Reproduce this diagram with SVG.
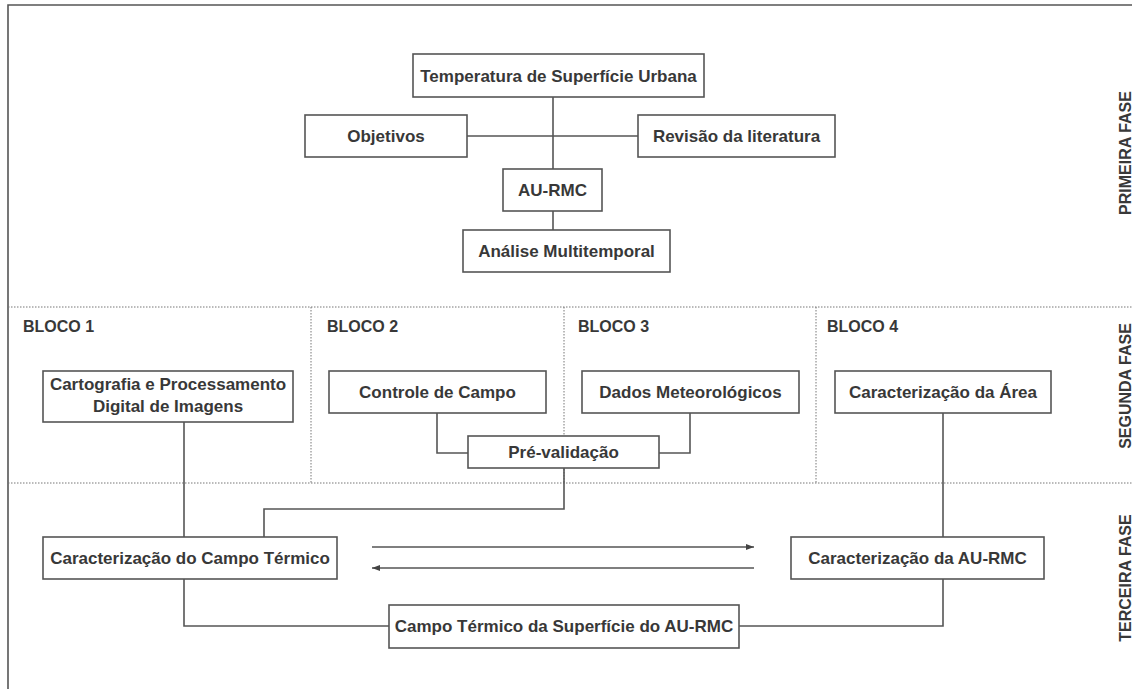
<svg xmlns="http://www.w3.org/2000/svg" width="1132" height="689" viewBox="0 0 1132 689">
  <defs>
    <style>
      .box { fill: #ffffff; stroke: #555555; stroke-width: 1.6; }
      .lbl { font-family: "Liberation Sans", Arial, sans-serif; font-weight: bold; font-size: 17px; fill: #383838; text-anchor: middle; }
      .blk { font-family: "Liberation Sans", Arial, sans-serif; font-weight: bold; font-size: 16px; fill: #383838; }
      .phase { font-family: "Liberation Sans", Arial, sans-serif; font-weight: bold; font-size: 16px; fill: #383838; text-anchor: middle; }
      .wire { fill: none; stroke: #555555; stroke-width: 1.6; }
      .dots { fill: none; stroke: #777777; stroke-width: 1; stroke-dasharray: 1.5 1.5; }
      .frame { fill: none; stroke: #555555; stroke-width: 1.6; }
    </style>
    <marker id="head" markerUnits="userSpaceOnUse" markerWidth="8" markerHeight="6" refX="8" refY="3" orient="auto">
      <path d="M0,0 L8,3 L0,6 z" fill="#444444"/>
    </marker>
  </defs>

  <rect width="1132" height="689" fill="#ffffff"/>

  <!-- frame and phase separators -->
  <g id="frame">
    <path class="frame" d="M1132,5 H8 V689"/>
    <path class="dots" d="M8,307 H1132 M8,483 H1132 M311,307 V483 M564,307 V483 M816,307 V483"/>
  </g>

  <!-- phase titles -->
  <g id="phases">
    <text class="phase" transform="translate(1131,153) rotate(-90)">PRIMEIRA FASE</text>
    <text class="phase" transform="translate(1131,386) rotate(-90)">SEGUNDA FASE</text>
    <text class="phase" transform="translate(1131,578) rotate(-90)">TERCEIRA FASE</text>
  </g>

  <!-- block headings -->
  <g id="blocks">
    <text class="blk" x="23" y="332">BLOCO 1</text>
    <text class="blk" x="327" y="332">BLOCO 2</text>
    <text class="blk" x="578" y="332">BLOCO 3</text>
    <text class="blk" x="827" y="332">BLOCO 4</text>
  </g>

  <!-- connectors -->
  <g id="connectors">
    <path class="wire" d="M553,97 V169"/>
    <path class="wire" d="M467,136 H638"/>
    <path class="wire" d="M553,211 V230"/>
    <path class="wire" d="M184,422 V537"/>
    <path class="wire" d="M437,413 V453 H468"/>
    <path class="wire" d="M690,413 V453 H659"/>
    <path class="wire" d="M564,468 V509 H264 V537"/>
    <path class="wire" d="M943,413 V537"/>
    <path class="wire" d="M184,579 V626 H389"/>
    <path class="wire" d="M943,579 V626 H739"/>
    <path class="wire" d="M372,547 H754" marker-end="url(#head)"/>
    <path class="wire" d="M754,568 H372" marker-end="url(#head)"/>
  </g>

  <!-- first phase -->
  <g id="n-temperatura">
    <rect class="box" x="413" y="54" width="291" height="43"/>
    <text class="lbl" x="558.5" y="81.5">Temperatura de Superfície Urbana</text>
  </g>
  <g id="n-objetivos">
    <rect class="box" x="305" y="115" width="162" height="42"/>
    <text class="lbl" x="386" y="142">Objetivos</text>
  </g>
  <g id="n-revisao">
    <rect class="box" x="638" y="115" width="197" height="42"/>
    <text class="lbl" x="736.5" y="142">Revisão da literatura</text>
  </g>
  <g id="n-aurmc">
    <rect class="box" x="503" y="169" width="99" height="42"/>
    <text class="lbl" x="552.5" y="196">AU-RMC</text>
  </g>
  <g id="n-analise">
    <rect class="box" x="463" y="230" width="207" height="42"/>
    <text class="lbl" x="566.5" y="257">Análise Multitemporal</text>
  </g>

  <!-- second phase -->
  <g id="n-cartografia">
    <rect class="box" x="43" y="371" width="250" height="51"/>
    <text class="lbl" x="168" y="389.5">Cartografia e Processamento</text>
    <text class="lbl" x="168" y="412">Digital de Imagens</text>
  </g>
  <g id="n-controle">
    <rect class="box" x="329" y="371" width="217" height="42"/>
    <text class="lbl" x="437.5" y="398">Controle de Campo</text>
  </g>
  <g id="n-dados">
    <rect class="box" x="582" y="371" width="217" height="42"/>
    <text class="lbl" x="690.5" y="398">Dados Meteorológicos</text>
  </g>
  <g id="n-prevalidacao">
    <rect class="box" x="468" y="436" width="191" height="32"/>
    <text class="lbl" x="563.5" y="458">Pré-validação</text>
  </g>
  <g id="n-area">
    <rect class="box" x="835" y="371" width="216" height="42"/>
    <text class="lbl" x="943" y="398">Caracterização da Área</text>
  </g>

  <!-- third phase -->
  <g id="n-campo-termico">
    <rect class="box" x="43" y="537" width="294" height="42"/>
    <text class="lbl" x="190" y="564">Caracterização do Campo Térmico</text>
  </g>
  <g id="n-carac-aurmc">
    <rect class="box" x="791" y="537" width="253" height="42"/>
    <text class="lbl" x="917.5" y="564">Caracterização da AU-RMC</text>
  </g>
  <g id="n-superficie">
    <rect class="box" x="389" y="605" width="350" height="43"/>
    <text class="lbl" x="564" y="632">Campo Térmico da Superfície do AU-RMC</text>
  </g>
</svg>
